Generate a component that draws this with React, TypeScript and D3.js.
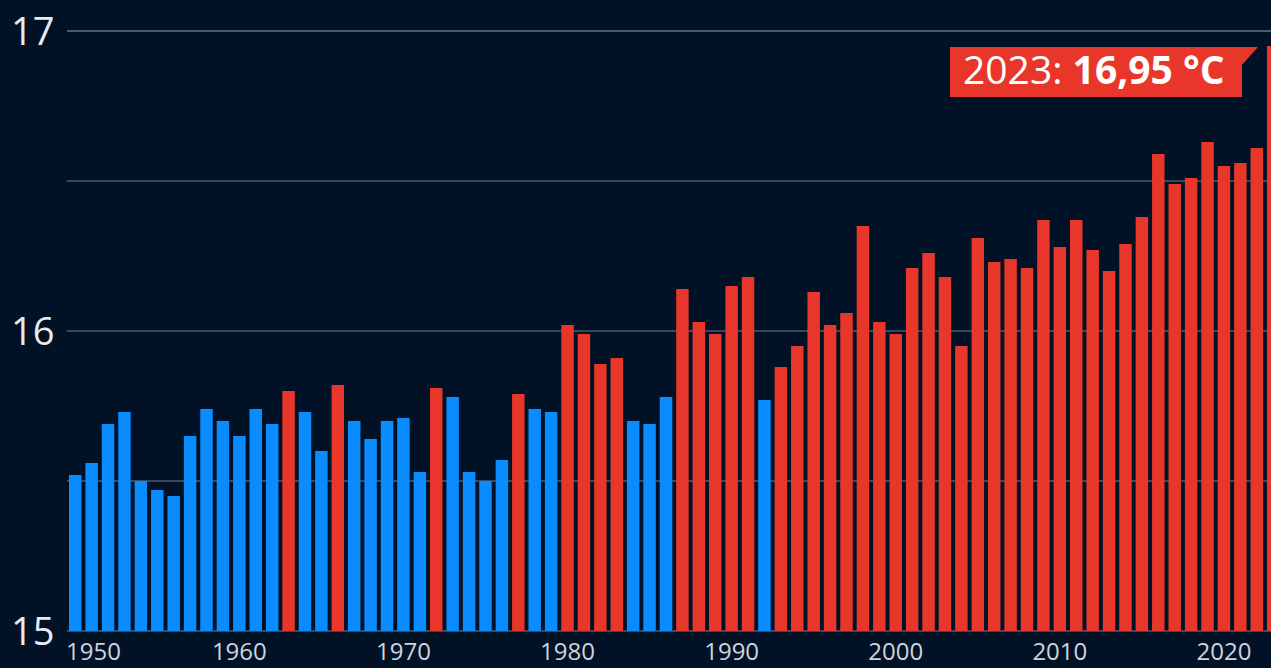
import React, { useEffect } from 'react';
import * as d3 from 'd3';

// yearly global mean temperature, °C
const years = d3.range(1950, 2024);
const temps = [
  15.52, 15.56, 15.69, 15.73, 15.50, 15.47, 15.45, 15.65, 15.74, 15.70,
  15.65, 15.74, 15.69, 15.80, 15.73, 15.60, 15.82, 15.70, 15.64, 15.70,
  15.71, 15.53, 15.81, 15.78, 15.53, 15.50, 15.57, 15.79, 15.74, 15.73,
  16.02, 15.99, 15.89, 15.91, 15.70, 15.69, 15.78, 16.14, 16.03, 15.99,
  16.15, 16.18, 15.77, 15.88, 15.95, 16.13, 16.02, 16.06, 16.35, 16.03,
  15.99, 16.21, 16.26, 16.18, 15.95, 16.31, 16.23, 16.24, 16.21, 16.37,
  16.28, 16.37, 16.27, 16.20, 16.29, 16.38, 16.59, 16.49, 16.51, 16.63,
  16.55, 16.56, 16.61, 16.95,
];
const gridValues = [15, 15.5, 16, 16.5, 17];
const yTickLabels = [15, 16, 17];
const xTickYears = [1950, 1960, 1970, 1980, 1990, 2000, 2010, 2020];
const warmThreshold = 15.785;

const W = 1271;
const H = 668;
const BG = '#011227';
const BLUE = '#0a8cff';
const RED = '#e8362a';

export default function App() {
  useEffect(() => {
    document.body.style.margin = '0';
    document.body.style.background = BG;
  }, []);

  const step = 16.41;
  const x = d3.scaleBand<number>()
    .domain(years)
    .range([69, 69 + step * (years.length - 0.24)])
    .paddingInner(0.24)
    .paddingOuter(0);

  const y = d3.scaleLinear().domain([15, 17]).range([631, 31]);

  const last = years.length - 1;
  const lastX = x(years[last])!;
  const lastY = y(temps[last]);

  // annotation flag geometry
  const boxL = 950, boxR = 1242, boxT = lastY + 1, boxB = lastY + 51;

  return (
    <svg width={W} height={H} style={{ display: 'block', background: BG }}
      fontFamily="'Open Sans', 'Noto Sans', sans-serif">
      <rect width={W} height={H} fill={BG} />
      {gridValues.map((v) => (
        <line key={v} x1={67} x2={W} y1={y(v)} y2={y(v)}
          stroke="#4b5a6f" strokeWidth={v === 17 ? 2 : 1.5} />
      ))}
      {years.map((yr, i) => (
        <rect key={yr} x={x(yr)} width={x.bandwidth()}
          y={y(temps[i])} height={y(15) - y(temps[i])}
          fill={temps[i] >= warmThreshold ? RED : BLUE} />
      ))}
      {yTickLabels.map((v) => (
        <text key={v} x={11} y={y(v)} dy="0.36em" fontSize={38}
          fill="#e8eaee">{v}</text>
      ))}
      {xTickYears.map((yr, i) => (
        <text key={yr}
          x={i === 0 ? 66 : x(yr)! + x.bandwidth() / 2}
          y={660} fontSize={24} fill="#cfd4db"
          textAnchor={i === 0 ? 'start' : 'middle'}>{yr}</text>
      ))}
      <path
        d={`M${boxL},${boxT} L${lastX - 9},${boxT} L${boxR},${boxT + 18} L${boxR},${boxB} L${boxL},${boxB} Z`}
        fill={RED} />
      <text x={boxL + 13} y={boxT + 37} fontSize={39} fill="#ffffff">
        {years[last]}: <tspan fontWeight={700}>{d3.format('.2f')(temps[last]).replace('.', ',')} °C</tspan>
      </text>
    </svg>
  );
}
